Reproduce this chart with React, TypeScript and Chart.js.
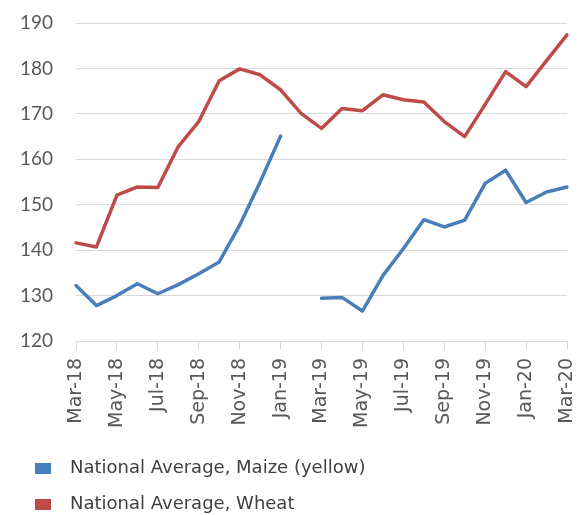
import React, { useEffect, useRef } from "react";
import { Chart, registerables } from "chart.js";

Chart.register(...registerables);

const months = [
  "Mar-18", "Apr-18", "May-18", "Jun-18", "Jul-18", "Aug-18", "Sep-18", "Oct-18", "Nov-18", "Dec-18",
  "Jan-19", "Feb-19", "Mar-19", "Apr-19", "May-19", "Jun-19", "Jul-19", "Aug-19", "Sep-19", "Oct-19",
  "Nov-19", "Dec-19", "Jan-20", "Feb-20", "Mar-20",
];

const maize: (number | null)[] = [
  132.2, 127.8, 130.0, 132.6, 130.4, 132.4, 134.8, 137.4, 145.5, 155.0,
  165.1, null, 129.4, 129.6, 126.6, 134.4, 140.3, 146.7, 145.1, 146.6,
  154.7, 157.6, 150.5, 152.8, 153.9,
];

const wheat: number[] = [
  141.6, 140.7, 152.1, 153.9, 153.8, 162.8, 168.3, 177.3, 179.9, 178.6,
  175.3, 170.1, 166.8, 171.2, 170.7, 174.2, 173.1, 172.6, 168.3, 165.0,
  172.1, 179.3, 176.0, 181.7, 187.4,
];

const seriesNames = ["National Average, Maize (yellow)", "National Average, Wheat"];
const seriesColors = ["#4a7ebb", "#be4b48"];

const yMin = 120;
const yMax = 190;
const yStep = 10;

function makeSwatch(color: string): HTMLCanvasElement {
  const c = document.createElement("canvas");
  c.width = 26;
  c.height = 11;
  const g = c.getContext("2d");
  if (g) {
    g.fillStyle = color;
    g.fillRect(0, 0, 16, 11);
  }
  return c;
}

export default function App() {
  const ref = useRef<HTMLCanvasElement | null>(null);

  useEffect(() => {
    if (!ref.current) return;
    const swatches = seriesColors.map(makeSwatch);
    const chart = new Chart(ref.current, {
      type: "line",
      data: {
        labels: months,
        datasets: [
          {
            label: seriesNames[0],
            data: maize,
            borderColor: seriesColors[0],
            backgroundColor: seriesColors[0],
            borderWidth: 3.5,
            pointRadius: 0,
            pointHoverRadius: 0,
            tension: 0,
            spanGaps: false,
            borderJoinStyle: "round",
            borderCapStyle: "round",
          },
          {
            label: seriesNames[1],
            data: wheat,
            borderColor: seriesColors[1],
            backgroundColor: seriesColors[1],
            borderWidth: 3.5,
            pointRadius: 0,
            pointHoverRadius: 0,
            tension: 0,
            borderJoinStyle: "round",
            borderCapStyle: "round",
          },
        ],
      },
      options: {
        responsive: false,
        animation: false,
        layout: { padding: { left: 17, right: 18, top: 23, bottom: 0 } },
        plugins: {
          tooltip: { enabled: false },
          title: { display: false },
          legend: {
            display: true,
            position: "bottom",
            align: "start",
            labels: {
              usePointStyle: true,
              pointStyleWidth: 26,
              padding: 18,
              color: "#404040",
              font: { family: "'DejaVu Sans', sans-serif", size: 18 },
              generateLabels: (ch: any) => {
                const items = (Chart as any).defaults.plugins.legend.labels.generateLabels(ch);
                items.forEach((it: any, i: number) => {
                  it.pointStyle = swatches[i];
                });
                return items;
              },
            },
          },
        },
        scales: {
          x: {
            type: "category",
            offset: false,
            afterFit: (scale: any) => {
              scale.height = 100;
              scale.paddingLeft = 0;
              scale.paddingRight = 0;
            },
            grid: {
              display: true,
              drawOnChartArea: false,
              drawTicks: true,
              tickLength: 9,
              tickColor: (ctx: any) => (ctx.index % 2 === 0 ? "#d9d9d9" : "rgba(0,0,0,0)"),
            },
            border: { display: true, color: "#d9d9d9", width: 1 },
            ticks: {
              autoSkip: false,
              minRotation: 90,
              maxRotation: 90,
              padding: 8,
              color: "#595959",
              font: { family: "'DejaVu Sans', sans-serif", size: 19 },
              callback: (_v: any, i: number) => (i % 2 === 0 ? months[i] : ""),
            },
          },
          y: {
            min: yMin,
            max: yMax,
            afterFit: (scale: any) => {
              scale.width = 59;
              scale.paddingTop = 0;
              scale.paddingBottom = 0;
            },
            grid: { color: "#d9d9d9", lineWidth: 1, drawTicks: false },
            border: { display: false },
            ticks: {
              stepSize: yStep,
              padding: 23,
              color: "#595959",
              font: { family: "Lato, sans-serif", size: 19 },
            },
          },
        },
      },
    });
    return () => chart.destroy();
  }, []);

  return (
    <div
      style={{
        position: "absolute",
        left: 0,
        top: 0,
        width: 585,
        height: 515,
        overflow: "hidden",
        background: "#ffffff",
      }}
    >
      <canvas ref={ref} width={585} height={523} style={{ width: 585, height: 523, display: "block" }} />
    </div>
  );
}
